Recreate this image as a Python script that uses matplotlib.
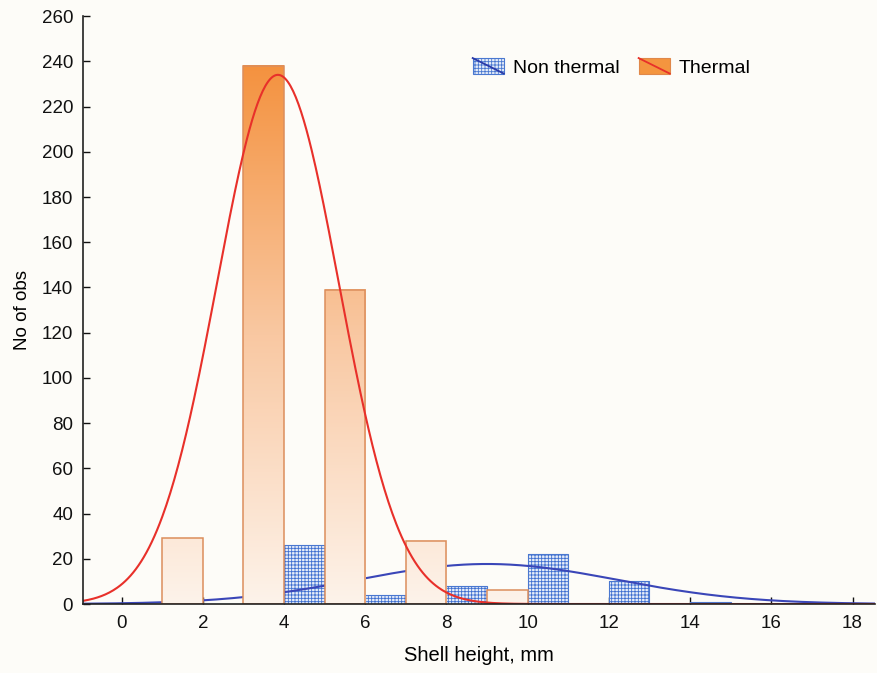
import numpy as np
import matplotlib
matplotlib.use("Agg")
import matplotlib.pyplot as plt
from matplotlib.patches import Rectangle, Patch
from matplotlib.lines import Line2D
from matplotlib.legend_handler import HandlerBase
from matplotlib.colors import LinearSegmentedColormap, Normalize

plt.rcParams['font.family'] = ['Liberation Sans', 'DejaVu Sans']
plt.rcParams['hatch.linewidth'] = 0.6

# ---- data ----
bin_left = [1, 3, 5, 7, 9, 11, 13]
thermal = [29, 238, 139, 28, 6, 0, 0]
non_thermal = [0, 26, 4, 8, 22, 10, 1]
bin_width = 2
thermal_mean, thermal_sd = 3.85, 1.5
non_thermal_mean, non_thermal_sd = 9.0, 3.2
x_ticks = [0, 2, 4, 6, 8, 10, 12, 14, 16, 18]
y_ticks = list(range(0, 261, 20))

bg = '#fdfcf8'
fig = plt.figure(figsize=(8.77, 6.73), dpi=100, facecolor=bg)
ax = fig.add_axes([0.0946, 0.1025, 0.903, 0.8735], facecolor=bg)

xmin, xmax = -0.95, 18.55
ymin, ymax = 0, 260

# non thermal bars (hatched blue), offset by 1 inside each bin
nt_x = [b + 1 for b in bin_left]
ax.bar(nt_x, non_thermal, width=1, align='edge', facecolor='#e6edf9',
       edgecolor='#3f6fd0', hatch='+++++', linewidth=0.0, zorder=2)
ax.bar(nt_x, non_thermal, width=1, align='edge', fill=False,
       edgecolor='#4a78d0', linewidth=0.8, zorder=2.1)

# fitted normal curves
xs = np.linspace(xmin, xmax, 600)
def normal_curve(x, n, mu, sd):
    return n * bin_width / (sd * np.sqrt(2 * np.pi)) * np.exp(-0.5 * ((x - mu) / sd) ** 2)

n_nt = sum(non_thermal)
n_t = sum(thermal)
ax.plot(xs, normal_curve(xs, n_nt, non_thermal_mean, non_thermal_sd),
        color='#3a46b8', lw=1.5, zorder=3)

# thermal bars with vertical gradient
cmap = LinearSegmentedColormap.from_list('th', ['#fdf3ea', '#f9c8a2', '#f4923f'])
norm = Normalize(0, max(thermal))
for left, h in zip(bin_left, thermal):
    if h <= 0:
        continue
    grad = np.linspace(0, h, 256).reshape(-1, 1)
    ax.imshow(grad, extent=[left, left + 1, 0, h], origin='lower', cmap=cmap,
              norm=norm, aspect='auto', zorder=4, interpolation='bilinear')
ax.bar(bin_left, thermal, width=1, align='edge', fill=False,
       edgecolor='#dc8e5c', linewidth=1.1, zorder=4.1)

ax.plot(xs, normal_curve(xs, n_t, thermal_mean, thermal_sd),
        color='#e8302a', lw=1.5, zorder=5)

ax.set_xlim(xmin, xmax)
ax.set_ylim(ymin, ymax)
ax.set_xticks(x_ticks)
ax.set_yticks(y_ticks)
ax.tick_params(direction='in', length=5, width=1, labelsize=13.5, colors='#111111', pad=8)
ax.tick_params(axis='y', pad=7)
for s in ['top', 'right']:
    ax.spines[s].set_visible(False)
for s in ['left', 'bottom']:
    ax.spines[s].set_color('#222222')
    ax.spines[s].set_linewidth(1.2)
    ax.spines[s].set_zorder(6)

ax.set_xlabel('Shell height, mm', fontsize=14.5, labelpad=10)
ax.set_ylabel('No of obs', fontsize=13.5, labelpad=8)


class DiagHandler(HandlerBase):
    def __init__(self, face, edge, line, hatch=None):
        super().__init__()
        self.face, self.edge, self.line, self.hatch = face, edge, line, hatch

    def create_artists(self, legend, orig_handle, xdescent, ydescent, width,
                       height, fontsize, trans):
        r = Rectangle((-xdescent, -ydescent), width, height, facecolor=self.face,
                      edgecolor=self.edge, hatch=self.hatch, lw=0.8, transform=trans)
        l = Line2D([-xdescent, -xdescent + width], [-ydescent + height, -ydescent],
                   color=self.line, lw=1.3, transform=trans)
        return [r, l]

h_nt = Patch(label='Non thermal')
h_t = Patch(label='Thermal')
ax.legend(handles=[h_nt, h_t], ncol=2, frameon=False, fontsize=14,
          loc='center left', bbox_to_anchor=(0.47, 0.913),
          handlelength=1.6, handleheight=0.85, handletextpad=0.45,
          columnspacing=1.0,
          handler_map={h_nt: DiagHandler('#e6edf9', '#4a78d0', '#2a3aa8', '+++++'),
                       h_t: DiagHandler('#f4953f', '#e0884a', '#e8302a')})

fig.savefig('out.png', dpi=100, facecolor=bg)
